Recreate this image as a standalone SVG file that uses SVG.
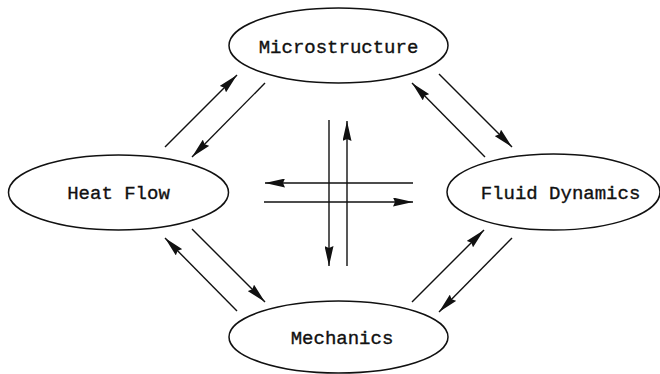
<svg xmlns="http://www.w3.org/2000/svg" width="660" height="374" viewBox="0 0 660 374">
<style>
.node ellipse{fill:#fff;stroke:#111;stroke-width:1.5}
.node text{font-family:"Liberation Mono","Courier New",monospace;font-size:19px;fill:#111;stroke:#111;stroke-width:0.35;text-anchor:middle}
.edges line{stroke:#111;stroke-width:1.4;marker-end:url(#ah)}
</style>
<defs>
<marker id="ah" markerUnits="userSpaceOnUse" markerWidth="20" markerHeight="9" refX="20" refY="4.5" orient="auto" viewBox="0 0 20 9">
<path d="M0,0 L20,4.5 L0,9 L2,4.5 z" fill="#111"/>
</marker>
</defs>
<rect width="660" height="374" fill="#fff"/>
<g id="microstructure" class="node">
<ellipse cx="338.5" cy="45.5" rx="109.5" ry="37.5"/>
<text x="338.5" y="53">Microstructure</text>
</g>
<g id="heat-flow" class="node">
<ellipse cx="118.5" cy="192.5" rx="110" ry="37.5"/>
<text x="118.5" y="199">Heat Flow</text>
</g>
<g id="fluid-dynamics" class="node">
<ellipse cx="553.5" cy="192" rx="106.5" ry="38"/>
<text x="560.5" y="199">Fluid Dynamics</text>
</g>
<g id="mechanics" class="node">
<ellipse cx="338.5" cy="337" rx="109.5" ry="36"/>
<text x="342" y="344">Mechanics</text>
</g>
<g class="edges">
<line x1="165" y1="147" x2="237" y2="75"/>
<line x1="265" y1="83" x2="192" y2="157"/>
<line x1="485" y1="157" x2="412" y2="83"/>
<line x1="439" y1="74" x2="512" y2="147"/>
<line x1="237" y1="311" x2="165" y2="238"/>
<line x1="192" y1="229" x2="265" y2="302"/>
<line x1="412" y1="302" x2="484" y2="230"/>
<line x1="512" y1="238" x2="439" y2="312"/>
<line x1="329" y1="120" x2="329" y2="266"/>
<line x1="347" y1="266" x2="347" y2="121"/>
<line x1="413" y1="183" x2="265" y2="183"/>
<line x1="264" y1="202" x2="413" y2="202"/>
</g>
</svg>
